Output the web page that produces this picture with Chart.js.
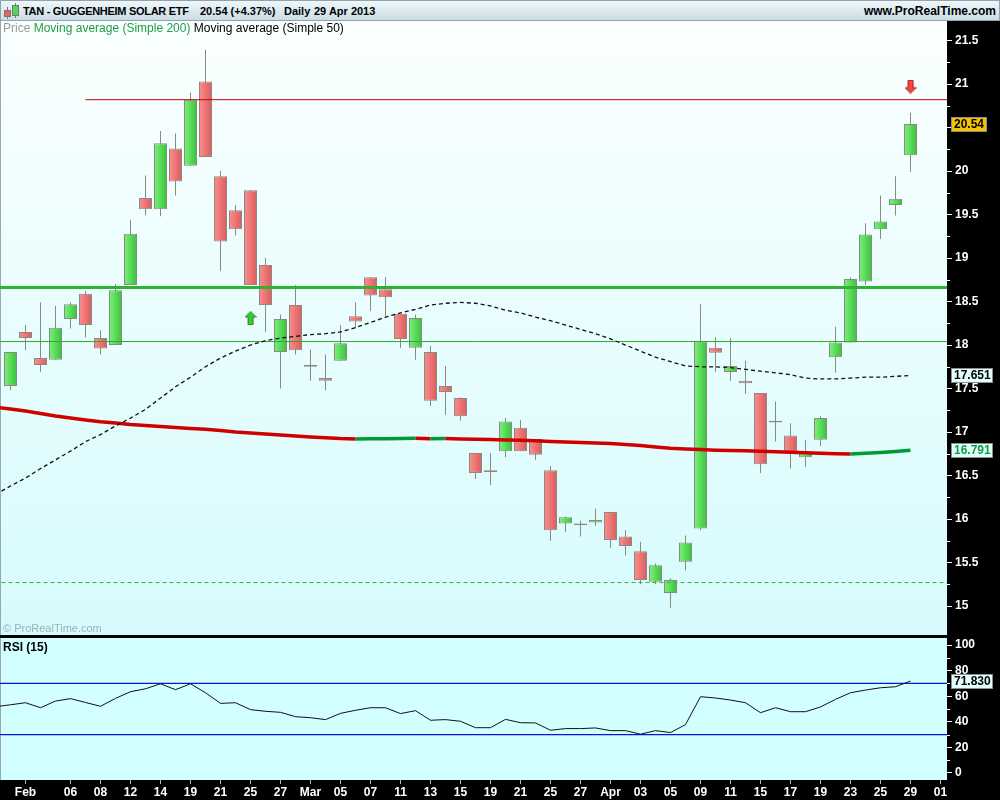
<!DOCTYPE html>
<html><head><meta charset="utf-8"><title>TAN - GUGGENHEIM SOLAR ETF</title>
<script src="https://cdn.jsdelivr.net/npm/chart.js"></script>
<style>
html,body{margin:0;padding:0;background:#fff;}
#wrap{position:relative;width:1000px;height:800px;overflow:hidden;font-family:"Liberation Sans",Arial,sans-serif;}
canvas{position:absolute;left:0;}
#c1{top:20px;} #c2{top:638px;}
#sep{position:absolute;left:0;top:635px;width:1000px;height:3px;background:#000;}
#hdr{position:absolute;left:0;top:0;width:998px;height:19px;border:1px solid #93a2ac;background:linear-gradient(#eef7fa,#cadde6);}
#hdr span{position:absolute;top:3px;font-weight:bold;font-size:11px;line-height:14px;color:#000;white-space:pre;}
.ic{position:absolute;box-sizing:border-box;}
#leg{position:absolute;left:3px;top:21px;font-size:12px;line-height:14px;white-space:pre;}
#copy{position:absolute;left:3px;top:622px;font-size:11px;line-height:13px;color:#9eb0b6;}
#rsil{position:absolute;left:3px;top:640px;font-size:12px;font-weight:bold;line-height:14px;color:#000;}
</style></head>
<body><div id="wrap">
<canvas id="c1" width="1000" height="615"></canvas>
<div id="sep"></div>
<canvas id="c2" width="1000" height="162"></canvas>
<div id="hdr">
  <div class="ic" style="left:6px;top:6px;width:1px;height:12px;background:#777"></div>
  <div class="ic" style="left:3px;top:9px;width:7px;height:7px;background:#f06060;border:1px solid #777"></div>
  <div class="ic" style="left:14px;top:2px;width:1px;height:15px;background:#777"></div>
  <div class="ic" style="left:11px;top:4px;width:7px;height:11px;background:#50d850;border:1px solid #777"></div>
  <span style="left:22px;letter-spacing:-0.3px">TAN - GUGGENHEIM SOLAR ETF</span>
  <span style="left:199px">20.54 (+4.37%)</span>
  <span style="left:283px">Daily</span>
  <span style="left:313px">29 Apr 2013</span>
  <span style="right:3px;font-size:12px">www.ProRealTime.com</span>
</div>
<div id="leg"><span style="color:#9a9a9a">Price</span> <span style="color:#1f9d45">Moving average (Simple 200)</span> <span style="color:#000">Moving average (Simple 50)</span></div>
<div id="copy">© ProRealTime.com</div>
<div id="rsil">RSI (15)</div>
</div>
<script>
// ---------------- data ----------------
const days = ['Jan 30','Jan 31','Feb 01','Feb 04','Feb 05','Feb 06','Feb 07','Feb 08','Feb 11','Feb 12','Feb 13','Feb 14','Feb 15','Feb 19','Feb 20','Feb 21','Feb 22','Feb 25','Feb 26','Feb 27','Feb 28','Mar 01','Mar 04','Mar 05','Mar 06','Mar 07','Mar 08','Mar 11','Mar 12','Mar 13','Mar 14','Mar 15','Mar 18','Mar 19','Mar 20','Mar 21','Mar 22','Mar 25','Mar 26','Mar 27','Mar 28','Apr 01','Apr 02','Apr 03','Apr 04','Apr 05','Apr 08','Apr 09','Apr 10','Apr 11','Apr 12','Apr 15','Apr 16','Apr 17','Apr 18','Apr 19','Apr 22','Apr 23','Apr 24','Apr 25','Apr 26','Apr 29','Apr 30','May 01'];

const open  = [null,17.53,18.15,17.85,17.83,18.30,18.59,18.08,18.00,18.69,19.69,19.56,20.26,20.06,21.03,19.94,19.55,19.78,18.92,17.92,18.46,17.77,17.62,17.82,18.33,18.78,18.64,18.36,17.97,17.92,17.53,17.39,16.76,16.56,16.78,17.05,16.92,16.56,15.95,15.95,15.96,16.08,15.80,15.63,15.28,15.15,15.51,15.89,17.97,17.69,17.59,17.45,17.11,16.96,16.71,16.91,17.86,18.03,18.73,19.33,19.61,20.18];
const high  = [null,17.92,18.23,18.49,18.45,18.49,18.62,18.17,18.70,19.44,19.95,20.46,20.43,20.90,21.39,20.00,19.61,19.78,19.00,18.35,18.69,17.95,17.89,18.23,18.49,18.78,18.78,18.36,18.35,17.99,17.76,17.40,16.76,16.76,17.16,17.14,16.92,16.61,16.03,15.98,16.12,16.08,15.87,15.74,15.49,15.32,15.81,18.47,18.09,18.08,17.82,17.45,17.35,17.10,16.91,17.18,18.21,18.78,19.40,19.72,19.94,20.67];
const low   = [null,17.48,17.94,17.69,17.83,18.19,18.09,17.89,18.00,18.69,19.49,19.48,19.72,20.06,20.16,18.85,19.26,18.69,18.15,17.50,17.89,17.59,17.48,17.82,18.19,18.39,18.33,17.97,17.83,17.30,17.20,17.13,16.46,16.39,16.71,16.78,16.68,15.75,15.85,15.80,15.92,15.67,15.58,15.25,15.25,14.98,15.41,15.87,17.69,17.59,17.44,16.53,16.89,16.58,16.60,16.84,17.68,18.03,18.69,19.22,19.49,19.99];
const close = [null,17.92,18.08,17.77,18.20,18.47,18.23,17.96,18.63,19.28,19.56,20.32,19.88,20.82,20.16,19.19,19.33,18.69,18.46,18.30,17.94,17.75,17.59,18.02,18.27,18.57,18.55,18.07,18.31,17.36,17.46,17.18,16.53,16.54,17.12,16.78,16.74,15.87,16.02,15.93,15.99,15.76,15.69,15.30,15.47,15.30,15.73,18.04,17.91,17.76,17.56,16.63,17.13,16.77,16.77,17.16,18.03,18.76,19.27,19.42,19.68,20.54];

const ma50  = [16.28,16.38,16.47,16.58,16.68,16.78,16.89,16.97,17.07,17.16,17.26,17.39,17.52,17.63,17.75,17.85,17.93,18.00,18.05,18.08,18.10,18.12,18.13,18.15,18.20,18.26,18.32,18.37,18.41,18.46,18.48,18.49,18.48,18.45,18.40,18.37,18.32,18.28,18.23,18.18,18.13,18.07,18.00,17.93,17.86,17.81,17.76,17.75,17.75,17.74,17.72,17.70,17.68,17.66,17.62,17.61,17.61,17.62,17.63,17.63,17.64,17.651];
const ma200 = [17.285,17.264,17.241,17.213,17.184,17.161,17.138,17.118,17.103,17.086,17.075,17.063,17.052,17.040,17.031,17.017,17.000,16.989,16.977,16.966,16.954,16.943,16.934,16.925,16.920,16.922,16.924,16.926,16.928,16.924,16.926,16.920,16.916,16.913,16.909,16.905,16.899,16.891,16.885,16.879,16.874,16.868,16.856,16.845,16.828,16.814,16.805,16.798,16.791,16.787,16.784,16.779,16.774,16.767,16.761,16.755,16.751,16.747,16.755,16.764,16.776,16.791];
const rsi15 = [51.8,53.3,54.9,51.0,56.2,58.1,55.1,52.1,58.3,63.5,65.8,69.7,65.1,69.7,62.7,54.4,54.9,49.5,48.2,47.4,44.0,43.2,41.7,46.6,49.0,51.0,51.0,46.4,48.7,41.2,41.7,40.4,35.4,35.4,41.9,39.3,39.1,33.4,34.7,34.7,35.2,33.1,33.1,30.3,33.1,31.6,37.8,59.6,58.6,57.0,54.9,47.1,51.0,47.9,47.9,51.6,57.5,62.7,64.8,66.6,67.4,71.83];

const tickDays   = ['Feb 01','Feb 06','Feb 08','Feb 12','Feb 14','Feb 19','Feb 21','Feb 25','Feb 27','Mar 01','Mar 05','Mar 07','Mar 11','Mar 13','Mar 15','Mar 19','Mar 21','Mar 25','Mar 27','Apr 01','Apr 03','Apr 05','Apr 09','Apr 11','Apr 15','Apr 17','Apr 19','Apr 23','Apr 25','Apr 29','May 01'];
const tickLabels = ['Feb','06','08','12','14','19','21','25','27','Mar','05','07','11','13','15','19','21','25','27','Apr','03','05','09','11','15','17','19','23','25','29','01'];
const priceTicks = [15,15.5,16,16.5,17,17.5,18,18.5,19,19.5,20,20.5,21,21.5];
const rsiTicks   = [0,20,40,60,80,100];
const rsiLevels  = [70,30];

const resistanceLevel = 20.82, resistanceFrom = 'Feb 07';
const supportLevels = [18.66, 18.04, 15.27];
const signalDays   = ['Feb 25','Apr 29'];
const signalPrices = [18.31, 20.97];

// ---------------- helpers ----------------
const FONT = '"Liberation Sans", Arial, sans-serif';
Chart.defaults.font.family = FONT;
const X_MIN = 0.3, X_MAX = 63.4333;
const WICK = '#8a8a80';
const idx = d => days.indexOf(d);
const lastIdx = close.length - 1;
const noPad = s => { s.paddingTop = 0; s.paddingBottom = 0; s.paddingLeft = 0; s.paddingRight = 0; };

function arrowImg(up, fill, stroke){
  const c = document.createElement('canvas'); c.width = 12; c.height = 14;
  const g = c.getContext('2d');
  g.beginPath();
  if (up) { g.moveTo(6,0.5); g.lineTo(11.5,6); g.lineTo(8.5,6); g.lineTo(8.5,13.5); g.lineTo(3.5,13.5); g.lineTo(3.5,6); g.lineTo(0.5,6); }
  else    { g.moveTo(6,13.5); g.lineTo(11.5,8); g.lineTo(8.5,8); g.lineTo(8.5,0.5); g.lineTo(3.5,0.5); g.lineTo(3.5,8); g.lineTo(0.5,8); }
  g.closePath(); g.fillStyle = fill; g.fill(); g.strokeStyle = stroke; g.lineWidth = 1; g.stroke();
  return c;
}

const bgPlugin = {
  id: 'bg',
  beforeDraw(chart, args, o) {
    const {ctx, chartArea: a, width, height} = chart;
    ctx.save();
    ctx.fillStyle = '#000'; ctx.fillRect(0, 0, width, height);
    const g = ctx.createLinearGradient(0, a.top, 0, a.bottom);
    g.addColorStop(0, o.top); g.addColorStop(1, o.bottom);
    ctx.fillStyle = g; ctx.fillRect(a.left, a.top, a.right - a.left, a.bottom - a.top);
    ctx.fillStyle = '#9aa8b0'; ctx.fillRect(0, a.top, 1, a.bottom - a.top);
    ctx.restore();
  },
  afterDraw(chart, args, o) {
    const {ctx, chartArea: a} = chart;
    const ys = chart.scales.y;
    ctx.save();
    ctx.strokeStyle = '#fff'; ctx.lineWidth = 1;
    (o.minor || []).forEach(v => {
      const py = Math.round(ys.getPixelForValue(v)) + 0.5;
      ctx.beginPath(); ctx.moveTo(a.right, py); ctx.lineTo(a.right + 3, py); ctx.stroke();
    });
    ctx.font = 'bold 12px ' + FONT; ctx.textBaseline = 'middle';
    (o.boxes || []).forEach(b => {
      const py = Math.round(ys.getPixelForValue(b.value));
      const w = Math.ceil(ctx.measureText(b.text).width) + 5;
      const x0 = a.right + 4;
      ctx.fillStyle = b.bg; ctx.fillRect(x0, py - 7, w, 15);
      ctx.strokeStyle = '#8c8c8c'; ctx.strokeRect(x0 + 0.5, py - 6.5, w - 1, 14);
      ctx.fillStyle = b.fg; ctx.fillText(b.text, x0 + 3, py + 1);
    });
    ctx.restore();
  }
};

function bodyColor(c) {
  const k = c.raw ? c.raw.x : null;
  if (k == null) return 'transparent';
  const up = close[k] >= open[k];
  const chart = c.chart;
  if (!chart.chartArea) return up ? '#5cdc5c' : '#f27272';
  const px = chart.scales.x.getPixelForValue(k);
  const g = chart.ctx.createLinearGradient(px - 6, 0, px + 6, 0);
  g.addColorStop(0, up ? '#78f078' : '#fb8c8c');
  g.addColorStop(1, up ? '#3cc43c' : '#dc5e5e');
  return g;
}

const bodies = [], wicks = [];
for (let k = 1; k < close.length; k++) {
  bodies.push({x: k, y: [open[k], close[k]]});
  wicks.push({x: k, y: [low[k], high[k]]});
}
const pts = arr => arr.map((v, k) => ({x: k, y: v}));
const hline = (v, from) => [{x: from, y: v}, {x: X_MAX + 1, y: v}];

// ---------------- price chart ----------------
new Chart(document.getElementById('c1'), {
  type: 'bar',
  data: { datasets: [
    {type:'line', data:[{x:idx(signalDays[0]), y:signalPrices[0]}], showLine:false, pointStyle:arrowImg(true,'#3cc83c','#1f8a1f'), pointRadius:6, order:0},
    {type:'line', data:[{x:idx(signalDays[1]), y:signalPrices[1]}], showLine:false, pointStyle:arrowImg(false,'#f04848','#b01818'), pointRadius:6, order:0},
    {type:'line', data:pts(ma50), borderColor:'#111', borderWidth:1.3, borderDash:[4,3], pointRadius:0, tension:0, order:1},
    {type:'line', data:pts(ma200), borderColor:'#d00000', borderWidth:3.5, pointRadius:0, tension:0, order:2,
      segment:{borderColor: s => s.p1.parsed.y >= s.p0.parsed.y ? '#009a33' : '#d00000'}},
    {type:'line', data:hline(resistanceLevel, idx(resistanceFrom)), borderColor:'#cc0000', borderWidth:1, pointRadius:0, clip:0, order:3},
    {type:'line', data:hline(supportLevels[0], -1), borderColor:'#2eb32e', borderWidth:3, pointRadius:0, clip:0, order:3},
    {type:'line', data:hline(supportLevels[1], -1), borderColor:'#2fa82f', borderWidth:1, pointRadius:0, clip:0, order:3},
    {type:'line', data:hline(supportLevels[2], -1), borderColor:'#33bb33', borderWidth:1, borderDash:[4,3], pointRadius:0, clip:0, order:3},
    {type:'bar', data:bodies, backgroundColor:bodyColor, borderColor:WICK, borderWidth:1, borderSkipped:false, barThickness:13, grouped:false, inflateAmount:0, order:5},
    {type:'bar', data:wicks, backgroundColor:WICK, borderWidth:0, barThickness:1, grouped:false, inflateAmount:0, order:6}
  ]},
  options: {
    responsive:false, maintainAspectRatio:false, animation:false, devicePixelRatio:1,
    layout:{padding:0, autoPadding:false},
    events:[],
    plugins:{
      legend:{display:false}, tooltip:{enabled:false},
      bg:{top:'#fbffff', bottom:'#d6fbfd',
          minor:[15.25,15.75,16.25,16.75,17.25,17.75,18.25,18.75,19.25,19.75,20.25,20.75,21.25],
          boxes:[
            {value:close[lastIdx], text:close[lastIdx].toFixed(2), bg:'#f4c400', fg:'#000'},
            {value:ma50[ma50.length-1], text:ma50[ma50.length-1].toFixed(3), bg:'#e2ffff', fg:'#000'},
            {value:ma200[ma200.length-1], text:ma200[ma200.length-1].toFixed(3), bg:'#e2ffff', fg:'#139a3c'}
          ]}
    },
    scales:{
      x:{type:'linear', min:X_MIN, max:X_MAX, offset:false, display:false},
      y:{type:'linear', position:'right', min:14.667, max:21.736,
         afterFit: s => { s.width = 53; noPad(s); },
         afterBuildTicks: s => { s.ticks = priceTicks.map(v => ({value:v})); },
         ticks:{color:'#fff', font:{size:12, weight:'bold'}, padding:3, callback: v => String(+(+v).toFixed(2))},
         grid:{drawOnChartArea:false, drawTicks:true, tickLength:5, color:'#fff'},
         border:{display:false}}
    }
  },
  plugins:[bgPlugin]
});

// ---------------- RSI chart ----------------
new Chart(document.getElementById('c2'), {
  type: 'line',
  data: { datasets: [
    {data:pts(rsi15), borderColor:'#111', borderWidth:1, pointRadius:0, tension:0, order:0},
    {data:hline(rsiLevels[0], -1), borderColor:'#1010e0', borderWidth:1.2, pointRadius:0, clip:0, order:1},
    {data:hline(rsiLevels[1], -1), borderColor:'#1010e0', borderWidth:1.2, pointRadius:0, clip:0, order:1}
  ]},
  options: {
    responsive:false, maintainAspectRatio:false, animation:false, devicePixelRatio:1,
    layout:{padding:0, autoPadding:false},
    events:[],
    plugins:{
      legend:{display:false}, tooltip:{enabled:false},
      bg:{top:'#d2ffff', bottom:'#d2ffff', minor:[10,30,50,70,90],
          boxes:[{value:rsi15[rsi15.length-1], text:rsi15[rsi15.length-1].toFixed(3), bg:'#e2ffff', fg:'#000'}]}
    },
    scales:{
      x:{type:'linear', position:'bottom', min:X_MIN, max:X_MAX, offset:false,
         afterFit: s => { s.height = 20; noPad(s); },
         afterBuildTicks: s => { s.ticks = tickDays.map(d => ({value: idx(d)})); },
         ticks:{autoSkip:false, maxRotation:0, minRotation:0, color:'#fff', font:{size:12, weight:'bold'}, padding:1,
                callback: v => tickLabels[tickDays.indexOf(days[Math.round(v)])]},
         grid:{drawOnChartArea:false, drawTicks:true, tickLength:4, color:'#bbbbbb'},
         border:{display:false}},
      y:{type:'linear', position:'right', min:-5.47, max:105.47,
         afterFit: s => { s.width = 53; noPad(s); },
         afterBuildTicks: s => { s.ticks = rsiTicks.map(v => ({value:v})); },
         ticks:{color:'#fff', font:{size:12, weight:'bold'}, padding:3},
         grid:{drawOnChartArea:false, drawTicks:true, tickLength:5, color:'#fff'},
         border:{display:false}}
    }
  },
  plugins:[bgPlugin]
});
</script>
</body></html>
